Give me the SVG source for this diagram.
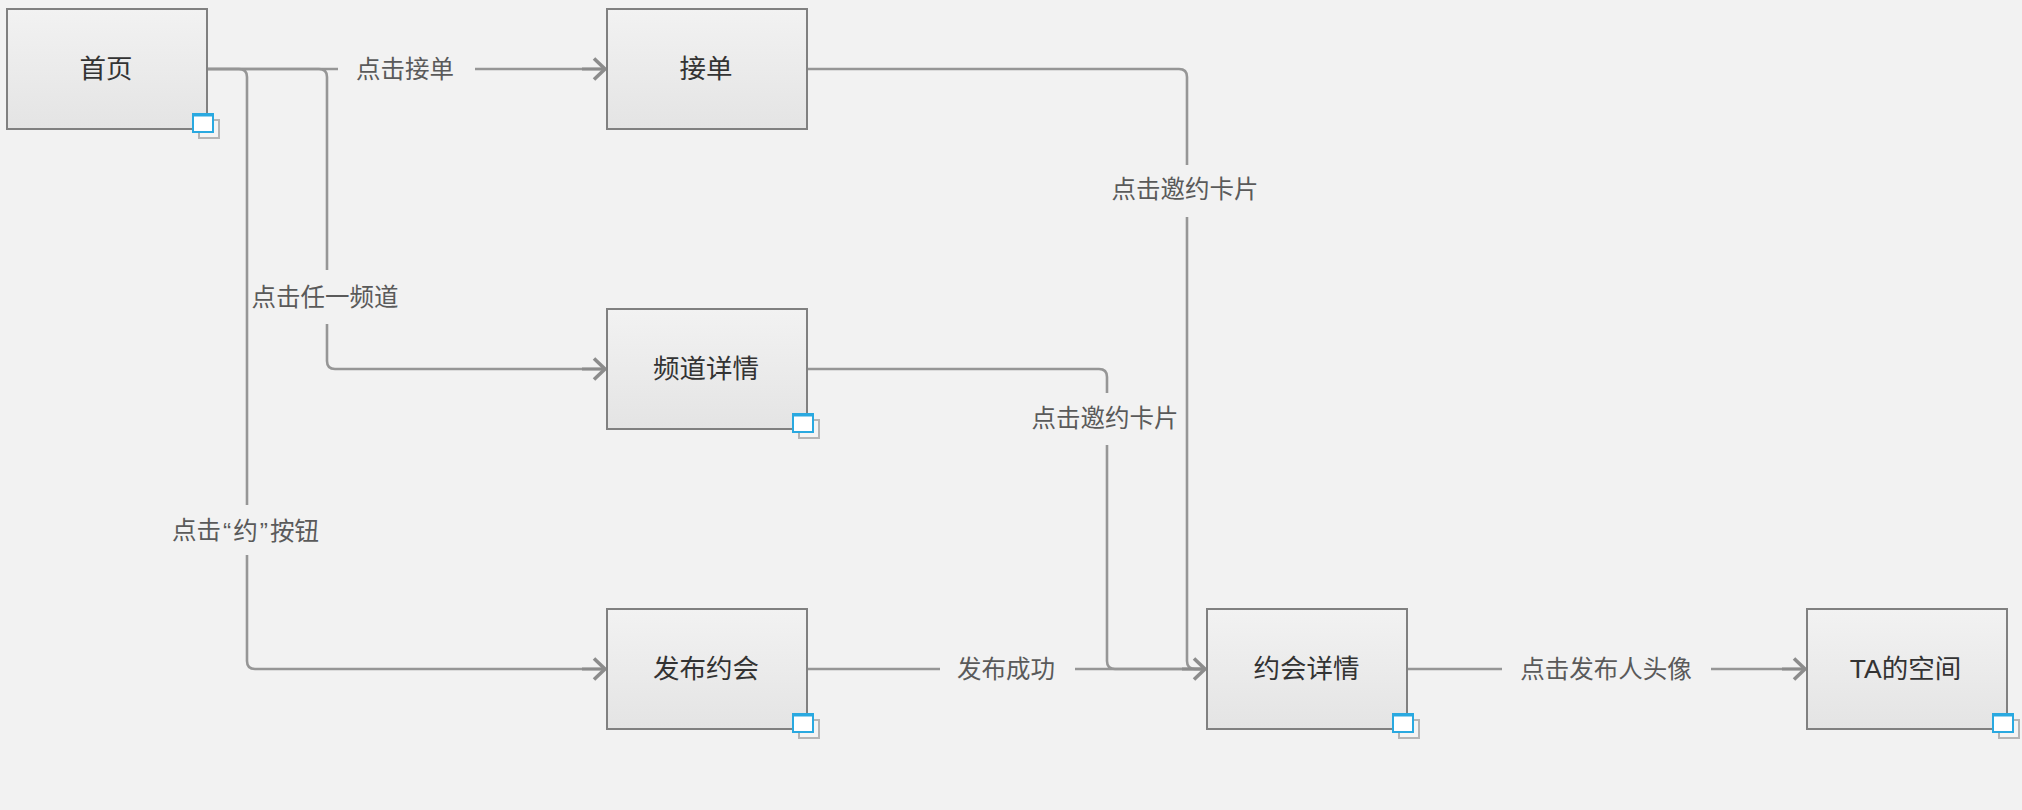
<svg xmlns="http://www.w3.org/2000/svg" width="2022" height="810" viewBox="0 0 2022 810">
<style>
text{font-family:"Liberation Sans","Noto Sans CJK SC",sans-serif;text-anchor:middle;dominant-baseline:central}
.n{fill:#333;font-size:26.5px}
.l{fill:#5a5a5a;font-size:24.5px}
.box{fill:url(#g);stroke:#808080;stroke-width:2}
.c{fill:none;stroke:#969696;stroke-width:2.6}
.a{fill:none;stroke:#8c8c8c;stroke-width:3.6}
.s{fill:none;stroke:#8c8c8c;stroke-width:3}
.w1{fill:#f4f4f4;stroke:#b5b5b5;stroke-width:2}
.w2{fill:#fff;stroke:#2aa9e0;stroke-width:2}
.w3{fill:none;stroke:#2aa9e0;stroke-width:3}
</style>
<defs>
<linearGradient id="g" x1="0" y1="0" x2="0" y2="1"><stop offset="0" stop-color="#f2f2f2"/><stop offset="1" stop-color="#e4e4e4"/></linearGradient>
<g id="badge"><rect class="w1" x="6" y="6" width="20" height="18"/><rect class="w2" x="0" y="0" width="20" height="18"/><path class="w3" d="M0 1H20"/></g>
<g id="ah"><path class="s" d="M-24 0H-2"/><path class="a" d="M-12 -10.500L-1 0L-12 10.500"/></g>
</defs>
<rect width="2022" height="810" fill="#f2f2f2"/>
<g id="connectors">
<path class="c" d="M207 69H338"/>
<path class="c" d="M475 69H604"/>
<path class="c" d="M207 69H319Q327 69 327 77V270"/>
<path class="c" d="M327 324V361Q327 369 335 369H604"/>
<path class="c" d="M207 69H239Q247 69 247 77V505"/>
<path class="c" d="M247 555V661Q247 669 255 669H604"/>
<path class="c" d="M808 69H1179Q1187 69 1187 77V165"/>
<path class="c" d="M1187 217V661Q1187 669 1195 669H1204"/>
<path class="c" d="M808 369H1099Q1107 369 1107 377V393"/>
<path class="c" d="M1107 445V661Q1107 669 1115 669H1204"/>
<path class="c" d="M808 669H940"/>
<path class="c" d="M1075 669H1204"/>
<path class="c" d="M1408 669H1502"/>
<path class="c" d="M1711 669H1804"/>
<use href="#ah" x="606" y="69"/>
<use href="#ah" x="606" y="369"/>
<use href="#ah" x="606" y="669"/>
<use href="#ah" x="1206" y="669"/>
<use href="#ah" x="1806" y="669"/>
<text class="l" x="405" y="69.500">点击接单</text>
<text class="l" x="325" y="297.500">点击任一频道</text>
<text class="l" x="245.500" y="530.500">点击<tspan dx="2">“</tspan><tspan dx="2">约</tspan><tspan dx="2">”</tspan><tspan dx="2">按钮</tspan></text>
<text class="l" x="1185" y="189.500">点击邀约卡片</text>
<text class="l" x="1105" y="418.500">点击邀约卡片</text>
<text class="l" x="1006" y="669.500">发布成功</text>
<text class="l" x="1606" y="669.500">点击发布人头像</text>
</g>
<g id="node-home"><rect class="box" x="7" y="9" width="200" height="120"/><text class="n" x="106" y="69">首页</text><use href="#badge" x="193" y="114"/></g>
<g id="node-accept"><rect class="box" x="607" y="9" width="200" height="120"/><text class="n" x="706" y="69">接单</text></g>
<g id="node-channel"><rect class="box" x="607" y="309" width="200" height="120"/><text class="n" x="706" y="369">频道详情</text><use href="#badge" x="793" y="414"/></g>
<g id="node-publish"><rect class="box" x="607" y="609" width="200" height="120"/><text class="n" x="706" y="669">发布约会</text><use href="#badge" x="793" y="714"/></g>
<g id="node-date"><rect class="box" x="1207" y="609" width="200" height="120"/><text class="n" x="1306.500" y="669">约会详情</text><use href="#badge" x="1393" y="714"/></g>
<g id="node-ta"><rect class="box" x="1807" y="609" width="200" height="120"/><text class="n" x="1905.500" y="669">TA的空间</text><use href="#badge" x="1993" y="714"/></g>
</svg>
